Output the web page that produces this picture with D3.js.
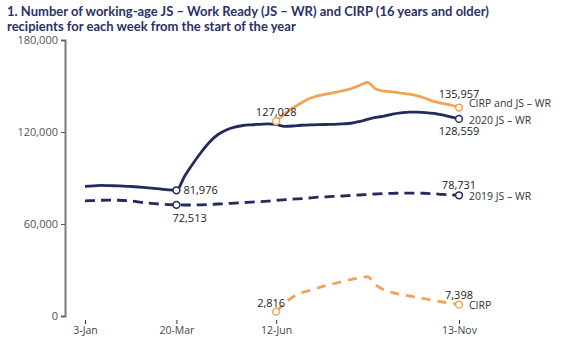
<!DOCTYPE html>
<html>
<head>
<meta charset="utf-8">
<script src="https://cdn.jsdelivr.net/npm/d3@7"></script>
<style>
  body { margin: 0; background: #fff; }
  text { font-family: "Open Sans", "Noto Sans", sans-serif; }
</style>
</head>
<body>
<div id="chart"></div>
<script>
// week index 0 = 3-Jan, 45 = 13-Nov
const xTickWeeks = [0, 11, 23, 45];
const xTickLabels = ["3-Jan", "20-Mar", "12-Jun", "13-Nov"];
const yTicks = [0, 60000, 120000, 180000];

const weeks2020 = d3.range(0, 46);
const js2020 = [84500, 84800, 85200, 85000, 84900, 84600, 84300, 83900, 83400, 82900, 82300, 81976,
  91300, 99450, 106960, 113480, 118370, 121300, 123130, 124240, 124700, 125020, 125350, 124900,
  123700, 123900, 124400, 124600, 124800, 124900, 125000, 125300, 125700, 126800, 128200, 129500,
  130400, 131700, 132500, 133000, 133000, 132700, 132100, 131100, 129800, 128559];

const js2019 = [75100, 75300, 75500, 75600, 75500, 75200, 74700, 74000, 73400, 73000, 72700, 72513,
  72400, 72400, 72500, 72700, 73050, 73300, 73650, 73950, 74300, 74550, 74900, 75450,
  75850, 76200, 76500, 76950, 77500, 77750, 78000, 78260, 78600, 78900, 79250, 79550,
  79800, 80000, 80150, 80200, 80200, 80000, 79700, 79300, 79000, 78731];

const weeksCirp = d3.range(23, 46);
const cirpTotal = [127028, 131700, 135650, 138900, 141850, 143600, 144650, 145800, 146900, 148200,
  150300, 152400, 148000, 146700, 146100, 145400, 144650, 143500, 141850, 139900, 138600, 137600, 135957];
const cirpOnly = [2816, 8150, 12400, 15000, 16600, 18260, 19900, 21200, 22500, 23800,
  24800, 25600, 20200, 17000, 15300, 14000, 13050, 12000, 11100, 10100, 9130, 8480, 7398];

const navy = "#232a5e";
const orange = "#f2a356";

const width = 564, height = 351;
const svg = d3.select("#chart").append("svg")
  .attr("width", width).attr("height", height);

const x = d3.scaleLinear().domain([0, 45]).range([85, 459]);
const y = d3.scaleLinear().domain([0, 180000]).range([316, 40]);

// title
const title = svg.append("text").attr("x", 7).attr("y", 16)
  .style("font-family", "Lato, 'Open Sans', sans-serif")
  .style("font-size", "13px").style("font-weight", "bold").style("fill", "#2b3068");
title.append("tspan").attr("x", 7).text("1. Number of working-age JS \u2013 Work Ready (JS \u2013 WR) and CIRP (16 years and older)");
title.append("tspan").attr("x", 7).attr("dy", 14.5).text("recipients for each week from the start of the year");

// y axis
const yAxis = svg.append("g").attr("transform", "translate(65,0)")
  .call(d3.axisLeft(y).tickValues(yTicks).tickSize(4).tickPadding(3).tickFormat(d3.format(",")));
yAxis.select(".domain").attr("stroke", "#7a7a7a").attr("stroke-width", 2);
yAxis.selectAll(".tick line").attr("stroke", "#555");
yAxis.selectAll(".tick text").style("font-size", "11px").style("fill", "#555")
  .style("font-family", "'Open Sans', sans-serif");

// x axis (ticks only)
const xAxis = svg.append("g").attr("transform", "translate(0,320)")
  .call(d3.axisBottom(x).tickValues(xTickWeeks).tickSize(4).tickPadding(3)
    .tickFormat((d, i) => xTickLabels[i]));
xAxis.select(".domain").remove();
xAxis.selectAll(".tick line").attr("stroke", "#333");
xAxis.selectAll(".tick text").style("font-size", "10.5px").style("fill", "#444");

const line = (xs) => d3.line().x((d, i) => x(xs[i])).y(d => y(d)).curve(d3.curveMonotoneX);

function drawSeries(xs, vals, color, dash) {
  svg.append("path").datum(vals)
    .attr("d", line(xs))
    .attr("fill", "none").attr("stroke", color).attr("stroke-width", 2.8)
    .attr("stroke-dasharray", dash || null);
}
drawSeries(weeks2020, js2019, navy, "10,6");
drawSeries(weeks2020, js2020, navy);
drawSeries(weeksCirp, cirpOnly, orange, "9,7");
drawSeries(weeksCirp, cirpTotal, orange);

// markers
const markers = [
  { w: 11, v: js2020[11], c: navy },
  { w: 45, v: js2020[45], c: navy },
  { w: 11, v: js2019[11], c: navy },
  { w: 45, v: js2019[45], c: navy },
  { w: 23, v: cirpTotal[0], c: orange },
  { w: 45, v: cirpTotal[cirpTotal.length - 1], c: orange },
  { w: 23, v: cirpOnly[0], c: orange },
  { w: 45, v: cirpOnly[cirpOnly.length - 1], c: orange }
];
svg.selectAll("circle.marker").data(markers).enter().append("circle")
  .attr("cx", d => x(d.w)).attr("cy", d => y(d.v)).attr("r", 3.4)
  .attr("fill", "#fff").attr("stroke", d => d.c).attr("stroke-width", 1.5);

// value labels
const fmt = d3.format(",");
const valueLabels = [
  { w: 11, v: js2020[11], dx: 7, dy: 4, anchor: "start" },
  { w: 11, v: js2019[11], dx: -4, dy: 17, anchor: "start" },
  { w: 23, v: cirpTotal[0], dx: 0, dy: -5, anchor: "middle" },
  { w: 45, v: cirpTotal[cirpTotal.length - 1], dx: 0, dy: -10, anchor: "middle" },
  { w: 45, v: js2020[45], dx: 0, dy: 16, anchor: "middle" },
  { w: 45, v: js2019[45], dx: 0, dy: -6, anchor: "middle" },
  { w: 23, v: cirpOnly[0], dx: -5, dy: -5, anchor: "middle" },
  { w: 45, v: cirpOnly[cirpOnly.length - 1], dx: 0, dy: -6, anchor: "middle" }
];
svg.selectAll("text.val").data(valueLabels).enter().append("text")
  .attr("x", d => x(d.w) + d.dx).attr("y", d => y(d.v) + d.dy)
  .attr("text-anchor", d => d.anchor)
  .style("font-size", "11px").style("fill", "#222")
  .text(d => fmt(d.v));

// series labels
const seriesLabels = [
  { v: cirpTotal[cirpTotal.length - 1], t: "CIRP and JS \u2013 WR", dy: -3 },
  { v: js2020[45], t: "2020 JS \u2013 WR", dy: 2 },
  { v: js2019[45], t: "2019 JS \u2013 WR", dy: 2 },
  { v: cirpOnly[cirpOnly.length - 1], t: "CIRP", dy: 2 }
];
svg.selectAll("text.series").data(seriesLabels).enter().append("text")
  .attr("x", x(45) + 10).attr("y", d => y(d.v) + d.dy)
  .attr("dominant-baseline", "middle")
  .style("font-size", "10.5px").style("fill", "#333")
  .text(d => d.t);
</script>
</body>
</html>
